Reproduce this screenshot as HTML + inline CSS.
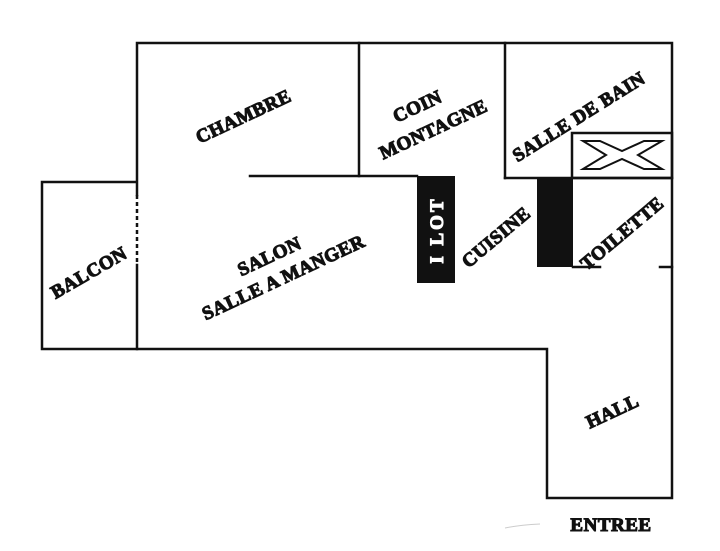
<!DOCTYPE html>
<html><head><meta charset="utf-8"><style>
html,body{margin:0;padding:0;background:#fff;}
svg{display:block;}
text{font-family:"Liberation Serif",serif;font-weight:bold;fill:#111;stroke:#111;stroke-width:1.1;letter-spacing:0.5px;font-size:19px;}
</style></head><body>
<svg width="720" height="551" viewBox="0 0 720 551" xmlns="http://www.w3.org/2000/svg">
<g stroke="#111" stroke-width="2.5" fill="none" stroke-linecap="square">
<polyline points="137,195 137,43 672,43 672,498 547,498 547,349 42,349 42,182 137,182"/>
<line x1="137" y1="265" x2="137" y2="349"/>
<line x1="359" y1="43" x2="359" y2="176"/>
<line x1="250" y1="176" x2="417" y2="176"/>
<line x1="505" y1="43" x2="505" y2="178"/>
<line x1="505" y1="178" x2="672" y2="178"/>
<rect x="572" y="133" width="100" height="45"/>
<line x1="573" y1="267" x2="600" y2="267"/>
<line x1="660" y1="267" x2="672" y2="267"/>
</g>
<line x1="137" y1="195" x2="137" y2="265" stroke="#111" stroke-width="2.5" stroke-dasharray="4,3"/>
<path d="M583,141 L600,141 L622,151 L644,141 L662,141 L638,155 L662,169 L644,169 L622,159 L600,169 L583,169 L606,155 Z" fill="none" stroke="#111" stroke-width="2"/>
<rect x="417" y="176" width="38" height="107" fill="#111"/>
<rect x="537" y="179" width="36" height="88" fill="#111"/>
<path d="M505,528 Q520,525 540,524" stroke="#ccc" fill="none"/>
<text transform="translate(443,230) rotate(-90)" text-anchor="middle" style="fill:#fff;stroke:#fff;font-size:19px;letter-spacing:3px">I LOT</text>
<text transform="translate(246,122) rotate(-25)" text-anchor="middle">CHAMBRE</text>
<text transform="translate(420,112) rotate(-25)" text-anchor="middle">COIN</text>
<text transform="translate(436,135) rotate(-25)" text-anchor="middle">MONTAGNE</text>
<text transform="translate(582,122) rotate(-32)" text-anchor="middle">SALLE DE BAIN</text>
<text transform="translate(92,278) rotate(-30)" text-anchor="middle">BALCON</text>
<text transform="translate(272,262) rotate(-25)" text-anchor="middle">SALON</text>
<text transform="translate(286,283) rotate(-25)" text-anchor="middle">SALLE A MANGER</text>
<text transform="translate(500,242) rotate(-40)" text-anchor="middle">CUISINE</text>
<text transform="translate(626,238) rotate(-40)" text-anchor="middle">TOILETTE</text>
<text transform="translate(615,417) rotate(-25)" text-anchor="middle">HALL</text>
<text x="611" y="531" text-anchor="middle">ENTREE</text>
</svg>
</body></html>
